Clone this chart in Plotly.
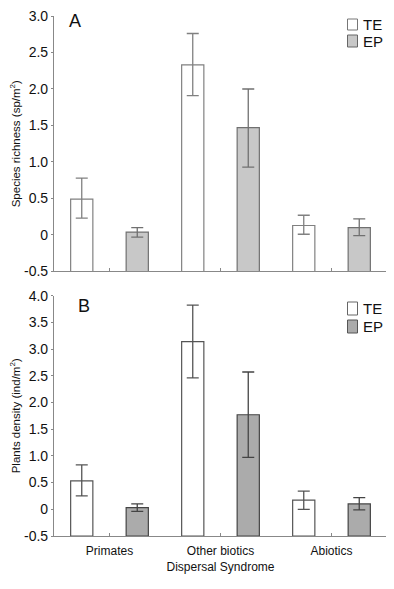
import plotly.graph_objects as go

categories = ["Primates", "Other biotics", "Abiotics"]

# Panel A: species richness (sp/m2)
rich_te = [0.49, 2.33, 0.13]
rich_te_hi = [0.78, 2.76, 0.27]
rich_te_lo = [0.23, 1.91, 0.01]
rich_ep = [0.04, 1.47, 0.10]
rich_ep_hi = [0.10, 2.00, 0.22]
rich_ep_lo = [-0.03, 0.93, -0.01]

# Panel B: plants density (ind/m2)
dens_te = [0.53, 3.14, 0.17]
dens_te_hi = [0.83, 3.82, 0.34]
dens_te_lo = [0.25, 2.46, 0.00]
dens_ep = [0.03, 1.77, 0.10]
dens_ep_hi = [0.10, 2.57, 0.22]
dens_ep_lo = [-0.04, 0.97, -0.01]

series_names = ["TE", "EP"]
ticks_a = [-0.5, 0, 0.5, 1.0, 1.5, 2.0, 2.5, 3.0]
ticks_b = [-0.5, 0, 0.5, 1.0, 1.5, 2.0, 2.5, 3.0, 3.5, 4.0]
ticktext_a = ["-0.5", "0", "0.5", "1.0", "1.5", "2.0", "2.5", "3.0"]
ticktext_b = ["-0.5", "0", "0.5", "1.0", "1.5", "2.0", "2.5", "3.0", "3.5", "4.0"]

BASE = -0.5
FONT = "Liberation Sans, Arial, sans-serif"

def bar(name, vals, hi, lo, fill, line, xa, ya):
    return go.Bar(
        name=name, x=categories, y=[v - BASE for v in vals], base=BASE,
        offset=-0.35 if name == "TE" else 0.15, width=0.2,
        marker=dict(color=fill, line=dict(color=line, width=1.2)),
        error_y=dict(type="data", symmetric=False,
                     array=[h - v for h, v in zip(hi, vals)],
                     arrayminus=[v - l for v, l in zip(vals, lo)],
                     color=line, thickness=1.3, width=6),
        xaxis=xa, yaxis=ya, showlegend=False,
    )

fig = go.Figure()
fig.add_trace(bar("TE", rich_te, rich_te_hi, rich_te_lo, "white", "#808080", "x", "y"))
fig.add_trace(bar("EP", rich_ep, rich_ep_hi, rich_ep_lo, "#c8c8c8", "#707070", "x", "y"))
fig.add_trace(bar("TE", dens_te, dens_te_hi, dens_te_lo, "white", "#555555", "x2", "y2"))
fig.add_trace(bar("EP", dens_ep, dens_ep_hi, dens_ep_lo, "#ababab", "#444444", "x2", "y2"))

xcommon = dict(type="category", range=[-0.5, 2.5], showline=True, linecolor="#888888",
               linewidth=1.2, ticks="inside", ticklen=3, tickcolor="#888888",
               showgrid=False, zeroline=False, automargin=False)
ycommon = dict(showline=True, linecolor="#888888", linewidth=1.2, ticks="outside",
               ticklen=2, tickcolor="#888888", showgrid=False, zeroline=False,
               automargin=False, ticklabeloverflow="allow",
               tickfont=dict(size=14, color="#111111", family=FONT))

# page body has an 8px default margin, so the figure is 8px smaller
OFF = 8
W, H = 386, 581
ML, MR, MT, MB = 46, 7, 8, 53
PW, PH = W - ML - MR, H - MT - MB
def px(x):
    return (x - OFF - ML) / PW
def py(y):
    return (H - MB - (y - OFF)) / PH

shapes = []
annotations = [
    dict(text="A", x=px(67), y=py(9), xref="paper", yref="paper", xanchor="left",
         yanchor="top", showarrow=False, font=dict(size=18, color="#111111")),
    dict(text="B", x=px(76), y=py(294), xref="paper", yref="paper", xanchor="left",
         yanchor="top", showarrow=False, font=dict(size=18, color="#111111")),
]
legend_boxes = [
    # (y0, y1, fill, line)
    [(19, 30, "white", "#777777"), (35, 47, "#c8c8c8", "#666666")],
    [(302, 315, "white", "#666666"), (320, 333, "#ababab", "#555555")],
]
for boxes in legend_boxes:
    for name, (y0, y1, fill, line) in zip(series_names, boxes):
        shapes.append(dict(type="rect", xref="paper", yref="paper",
                           x0=px(347.5), x1=px(357.5), y0=py(y1), y1=py(y0),
                           fillcolor=fill, line=dict(color=line, width=1)))
        annotations.append(dict(text=name, x=px(361), y=py((y0 + y1) / 2), xref="paper",
                                yref="paper", xanchor="left", yanchor="middle",
                                showarrow=False, font=dict(size=15, color="#111111")))

fig.update_layout(
    width=W, height=H,
    margin=dict(l=ML, r=MR, t=MT, b=MB, autoexpand=False),
    paper_bgcolor="white", plot_bgcolor="white",
    font=dict(family=FONT, color="#111111"),
    xaxis=dict(xcommon, domain=[0, 1], anchor="y", showticklabels=False),
    yaxis=dict(ycommon, domain=[0.5087, 1], range=[-0.5, 3.0], anchor="x",
               tickvals=ticks_a, ticktext=ticktext_a,
               title=dict(text="Species richness (sp/m<sup>2</sup>)", font=dict(size=11.5), standoff=1)),
    xaxis2=dict(xcommon, domain=[0, 1], anchor="y2", showticklabels=True,
                tickfont=dict(size=12, color="#111111"), ticklabelstandoff=3,
                title=dict(text="Dispersal Syndrome", font=dict(size=12), standoff=6)),
    yaxis2=dict(ycommon, domain=[0, 0.4623], range=[-0.5, 4.0], anchor="x2",
                tickvals=ticks_b, ticktext=ticktext_b,
                title=dict(text="Plants density (ind/m<sup>2</sup>)", font=dict(size=11.5), standoff=1)),
    showlegend=False,
    shapes=shapes,
    annotations=annotations,
)

fig.write_html("out.html")
